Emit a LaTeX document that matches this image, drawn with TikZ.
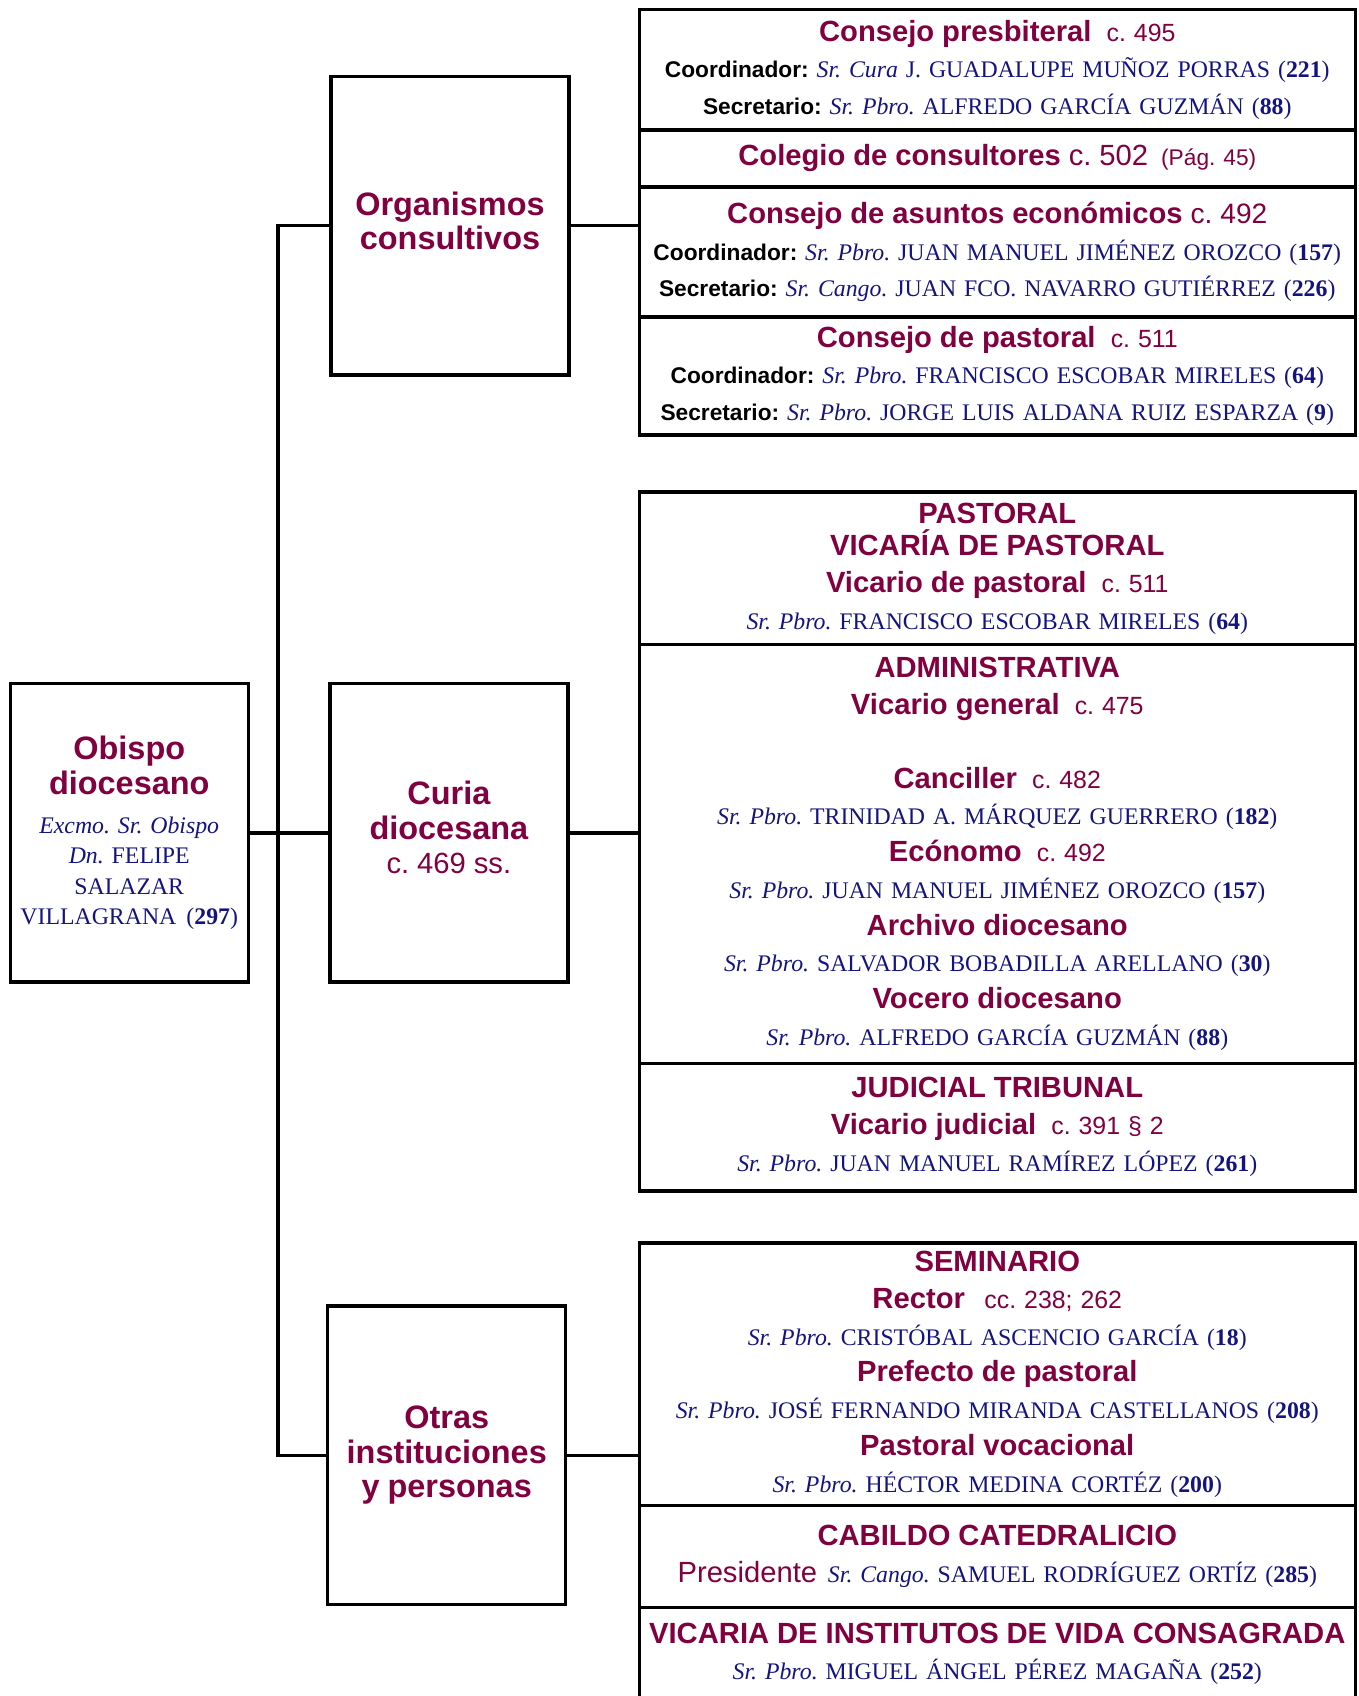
\documentclass[tikz,border=0pt]{standalone}
\usepackage{fontspec}
\setmainfont{Liberation Serif}
\setsansfont{Liberation Sans}
\usetikzlibrary{positioning}
\definecolor{vino}{RGB}{128,0,64}
\definecolor{marino}{RGB}{20,20,128}
\newcommand{\ttl}[1]{{\sffamily\bfseries\color{vino}\fontsize{13.5}{17}\selectfont #1}}
\newcommand{\ttlm}[1]{{\sffamily\bfseries\color{vino}\fontsize{15}{16}\selectfont #1}}
\newcommand{\cn}[2][11.5]{{\sffamily\color{vino}\fontsize{#1}{17}\selectfont #2}}
\newcommand{\lbl}[1]{{\sffamily\bfseries\color{black}\fontsize{10.5}{17}\selectfont #1}}
\newcommand{\nm}[1]{{\rmfamily\color{marino}#1}}
\tikzstyle{head} = [rectangle, draw=black, line width=1.6pt, inner sep=0pt, outer sep=0pt, align=center, text width=110pt, minimum height=138pt, font=\fontsize{11}{16}\selectfont]
\tikzstyle{unit} = [rectangle, draw=black, line width=1.6pt, inner sep=0pt, outer sep=0pt, align=center, text width=331pt, font=\fontsize{11}{17}\selectfont]
\tikzstyle{wire} = [line width=1.6pt]
\frenchspacing
\begin{document}
\begin{tikzpicture}[x=1pt, y=1pt]
\useasboundingbox (0,0) rectangle (628,-784);
% left and middle column
\node (obispo) [head, font=\fontsize{11}{14}\selectfont] at (59.75,-385) {\ttlm{Obispo}\\[2pt] \ttlm{diocesano}\\[4pt] \nm{\textit{Excmo. Sr. Obispo}}\\ \nm{\textit{Dn.} FELIPE}\\ \nm{SALAZAR}\\ \nm{VILLAGRANA\ \hspace{1pt}(\textbf{297})}};
\node (org) [head, text depth=20.5pt] at (208,-104.25) {\ttlm{Organismos}\\ \ttlm{consultivos}};
\node (curia) [head, text depth=37pt] at (207.5,-385) {\ttlm{Curia}\\ \ttlm{diocesana}\\ \cn[13.5]{c. 469 ss.}};
\node (otras) [head] at (206.5,-672.75) {\ttlm{Otras}\\ \ttlm{instituciones}\\ \ttlm{y personas}};
% organismos consultivos
\node (cpres) [unit, minimum height=55.5pt, anchor=north] at (461,-4.5) {\ttl{Consejo presbiteral}\hspace{7pt}\cn{c. 495}\\ \lbl{Coordinador:} \nm{\textit{Sr. Cura} J. GUADALUPE MUÑOZ PORRAS (\textbf{221})}\\ \lbl{Secretario:} \nm{\textit{Sr. Pbro.} ALFREDO GARCÍA GUZMÁN (\textbf{88})}};
\node (ccons) [unit, minimum height=26.5pt, below=0pt of cpres] {\ttl{Colegio de consultores} \cn[13.5]{c. 502}\hspace{6pt}\cn[10.5]{(Pág. 45)}};
\node (cecon) [unit, minimum height=60pt, below=0pt of ccons] {\ttl{Consejo de asuntos económicos} \cn[13]{c. 492}\\ \lbl{Coordinador:} \nm{\textit{Sr. Pbro.} JUAN MANUEL JIMÉNEZ OROZCO (\textbf{157})}\\ \lbl{Secretario:} \nm{\textit{Sr. Cango.} JUAN FCO. NAVARRO GUTIÉRREZ (\textbf{226})}};
\node (cpast) [unit, minimum height=54.5pt, below=0pt of cecon] {\ttl{Consejo de pastoral}\hspace{7pt}\cn{c. 511}\\ \lbl{Coordinador:} \nm{\textit{Sr. Pbro.} FRANCISCO ESCOBAR MIRELES (\textbf{64})}\\ \lbl{Secretario:} \nm{\textit{Sr. Pbro.} JORGE LUIS ALDANA RUIZ ESPARZA (\textbf{9})}};
% curia diocesana
\node (pastoral) [unit, minimum height=70.5pt, anchor=north] at (461,-227.5) {\ttl{PASTORAL}\\[-2pt] \ttl{VICARÍA DE PASTORAL}\\ \ttl{Vicario de pastoral}\hspace{7pt}\cn{c. 511}\\ \nm{\textit{Sr. Pbro.} FRANCISCO ESCOBAR MIRELES (\textbf{64})}};
\node (admin) [unit, minimum height=193.5pt, below=0pt of pastoral] {\ttl{ADMINISTRATIVA}\\ \ttl{Vicario general}\hspace{7pt}\cn{c. 475}\\[17pt] \ttl{Canciller}\hspace{7pt}\cn{c. 482}\\ \nm{\textit{Sr. Pbro.} TRINIDAD A. MÁRQUEZ GUERRERO (\textbf{182})}\\ \ttl{Ecónomo}\hspace{7pt}\cn{c. 492}\\ \nm{\textit{Sr. Pbro.} JUAN MANUEL JIMÉNEZ OROZCO (\textbf{157})}\\ \ttl{Archivo diocesano}\\ \nm{\textit{Sr. Pbro.} SALVADOR BOBADILLA ARELLANO (\textbf{30})}\\ \ttl{Vocero diocesano}\\ \nm{\textit{Sr. Pbro.} ALFREDO GARCÍA GUZMÁN (\textbf{88})}};
\node (judicial) [unit, minimum height=59pt, below=0pt of admin] {\ttl{JUDICIAL TRIBUNAL}\\ \ttl{Vicario judicial}\hspace{7pt}\cn{c. 391 § 2}\\ \nm{\textit{Sr. Pbro.} JUAN MANUEL RAMÍREZ LÓPEZ (\textbf{261})}};
% otras instituciones
\node (seminario) [unit, minimum height=121.5pt, anchor=north] at (461,-574.5) {\ttl{SEMINARIO}\\ \ttl{Rector}\hspace{9pt}\cn{cc. 238; 262}\\ \nm{\textit{Sr. Pbro.} CRISTÓBAL ASCENCIO GARCÍA (\textbf{18})}\\ \ttl{Prefecto de pastoral}\\ \nm{\textit{Sr. Pbro.} JOSÉ FERNANDO MIRANDA CASTELLANOS (\textbf{208})}\\ \ttl{Pastoral vocacional}\\ \nm{\textit{Sr. Pbro.} HÉCTOR MEDINA CORTÉZ (\textbf{200})}};
\node (cabildo) [unit, minimum height=47pt, below=0pt of seminario] {\ttl{CABILDO CATEDRALICIO}\\ \cn[13.5]{Presidente}\hspace{5pt}\nm{\textit{Sr. Cango.} SAMUEL RODRÍGUEZ ORTÍZ (\textbf{285})}};
\node (vicaria) [unit, minimum height=43pt, below=0pt of cabildo] {\ttl{VICARIA DE INSTITUTOS DE VIDA CONSAGRADA}\\ \nm{\textit{Sr. Pbro.} MIGUEL ÁNGEL PÉREZ MAGAÑA (\textbf{252})}};
% connectors
\coordinate (trunk) at (128.5,-385);
\draw [wire] (obispo) -- (curia);
\draw [wire] (org.west) -| (trunk) |- (otras.west);
\draw [wire] (org.east) -- (org.east -| cecon.west);
\draw [wire] (curia.east) -- (curia.east -| admin.west);
\draw [wire] (otras.east) -- (otras.east -| seminario.west);
\end{tikzpicture}
\end{document}
